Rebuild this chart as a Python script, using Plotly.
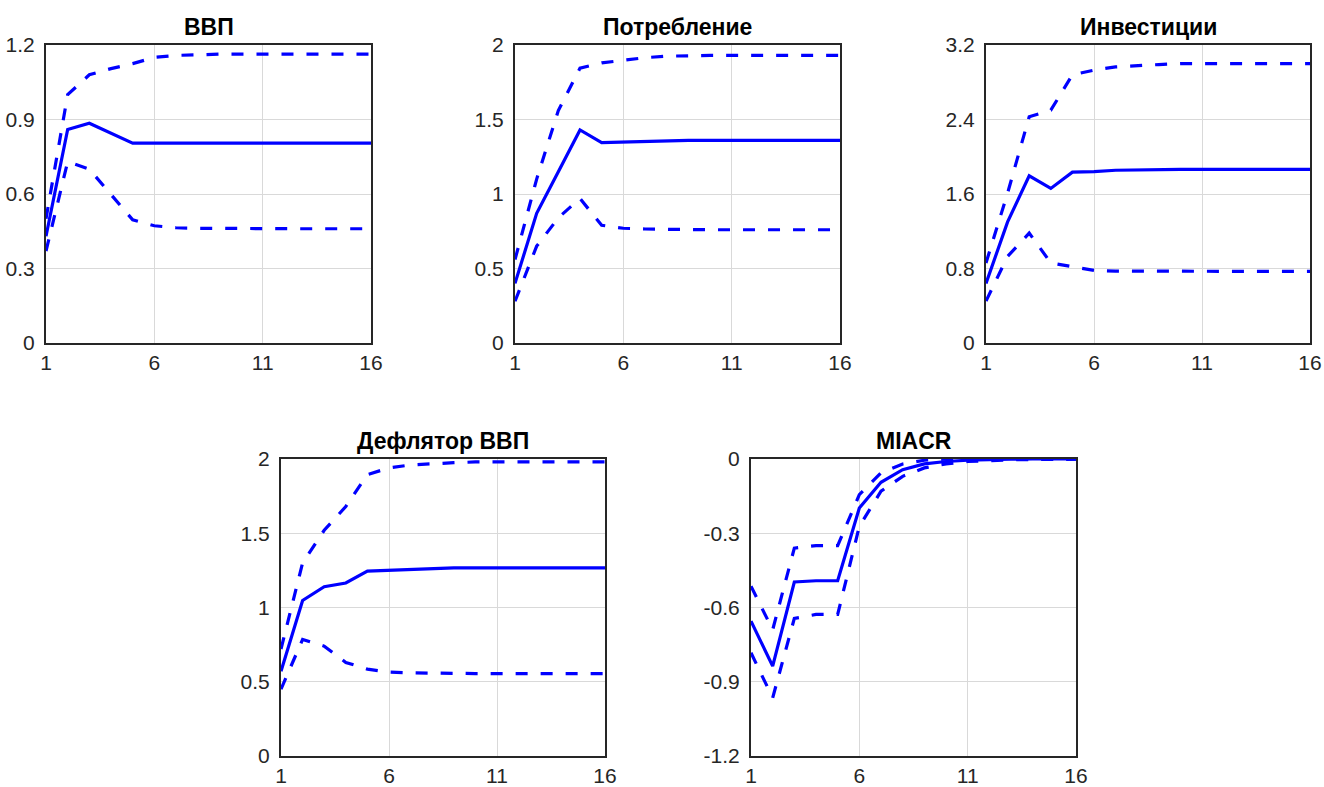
import plotly.graph_objects as go

periods = list(range(1, 17))

titles = ["ВВП", "Потребление", "Инвестиции", "Дефлятор ВВП", "MIACR"]

gdp_mid = [0.43, 0.86, 0.885, 0.845, 0.805, 0.805, 0.805, 0.805, 0.805, 0.805, 0.805, 0.805, 0.805, 0.805, 0.805, 0.805]
gdp_up = [0.50, 1.00, 1.08, 1.105, 1.125, 1.15, 1.158, 1.162, 1.163, 1.163, 1.163, 1.163, 1.163, 1.163, 1.163, 1.163]
gdp_lo = [0.37, 0.73, 0.70, 0.60, 0.496, 0.472, 0.464, 0.462, 0.461, 0.46, 0.46, 0.46, 0.46, 0.46, 0.46, 0.46]

cons_mid = [0.40, 0.87, 1.15, 1.43, 1.345, 1.35, 1.355, 1.358, 1.36, 1.36, 1.36, 1.36, 1.36, 1.36, 1.36, 1.36]
cons_up = [0.56, 1.10, 1.56, 1.845, 1.88, 1.90, 1.915, 1.925, 1.93, 1.93, 1.93, 1.93, 1.93, 1.93, 1.93, 1.93]
cons_lo = [0.28, 0.65, 0.84, 0.97, 0.79, 0.77, 0.765, 0.762, 0.76, 0.76, 0.76, 0.76, 0.76, 0.76, 0.76, 0.76]

inv_mid = [0.64, 1.30, 1.795, 1.66, 1.835, 1.84, 1.855, 1.86, 1.865, 1.865, 1.865, 1.865, 1.865, 1.865, 1.865, 1.865]
inv_up = [0.86, 1.61, 2.43, 2.50, 2.88, 2.93, 2.965, 2.98, 2.99, 3.0, 3.0, 3.0, 3.0, 3.0, 3.0, 3.0]
inv_lo = [0.45, 0.93, 1.18, 0.86, 0.82, 0.78, 0.772, 0.77, 0.77, 0.77, 0.77, 0.77, 0.77, 0.77, 0.77, 0.77]

defl_mid = [0.57, 1.047, 1.14, 1.165, 1.245, 1.25, 1.26, 1.265, 1.267, 1.267, 1.267, 1.267, 1.267, 1.267, 1.267, 1.267]
defl_up = [0.72, 1.30, 1.52, 1.68, 1.895, 1.94, 1.96, 1.97, 1.975, 1.98, 1.98, 1.98, 1.98, 1.98, 1.98, 1.98]
defl_lo = [0.45, 0.785, 0.74, 0.63, 0.585, 0.565, 0.56, 0.557, 0.555, 0.555, 0.555, 0.555, 0.555, 0.555, 0.555, 0.555]

miacr_mid = [-0.655, -0.837, -0.497, -0.492, -0.492, -0.198, -0.094, -0.043, -0.02, -0.01, -0.005, -0.002, -0.001, 0.0, 0.0, 0.0]
miacr_up = [-0.514, -0.69, -0.36, -0.35, -0.35, -0.144, -0.056, -0.02, -0.005, 0.0, 0.0, 0.0, 0.0, 0.0, 0.0, 0.0]
miacr_lo = [-0.783, -0.965, -0.644, -0.628, -0.628, -0.272, -0.13, -0.07, -0.036, -0.02, -0.01, -0.005, -0.003, -0.002, -0.001, -0.001]

series = [
    (gdp_mid, gdp_up, gdp_lo),
    (cons_mid, cons_up, cons_lo),
    (inv_mid, inv_up, inv_lo),
    (defl_mid, defl_up, defl_lo),
    (miacr_mid, miacr_up, miacr_lo),
]

x_ticks = [1, 6, 11, 16]
y_ticks = [
    [0, 0.3, 0.6, 0.9, 1.2],
    [0, 0.5, 1, 1.5, 2],
    [0, 0.8, 1.6, 2.4, 3.2],
    [0, 0.5, 1, 1.5, 2],
    [-1.2, -0.9, -0.6, -0.3, 0],
]
y_ticktext = [
    ["0", "0.3", "0.6", "0.9", "1.2"],
    ["0", "0.5", "1", "1.5", "2"],
    ["0", "0.8", "1.6", "2.4", "3.2"],
    ["0", "0.5", "1", "1.5", "2"],
    ["-1.2", "-0.9", "-0.6", "-0.3", "0"],
]

W, H = 1324, 787
# plot areas in pixels: (left, right, top, bottom)
boxes = [
    (46, 371, 45, 343),
    (515, 840, 45, 343),
    (986, 1310, 45, 343),
    (281, 605, 459, 756),
    (751, 1076, 459, 756),
]

BLUE = "#0000FF"
AX = "#262626"
FONT = "Liberation Sans, Arial"
fig = go.Figure()
layout = {}
annotations = []
for i, ((mid, up, lo), box) in enumerate(zip(series, boxes)):
    n = "" if i == 0 else str(i + 1)
    xa, ya = "x" + n, "y" + n
    for vals, dash in ((up, "12px,13px"), (lo, "12px,13px"), (mid, "solid")):
        fig.add_trace(go.Scatter(
            x=periods, y=vals, xaxis=xa, yaxis=ya, mode="lines",
            line=dict(color=BLUE, width=3.2, dash=dash),
            showlegend=False, hoverinfo="skip",
        ))
    l, r, t, b = box
    layout["xaxis" + n] = dict(
        domain=[l / W, r / W], anchor=ya, range=[1, 16],
        tickvals=x_ticks, ticktext=[str(v) for v in x_ticks],
        showgrid=True, gridcolor="#d9d9d9", gridwidth=1,
        showline=True, linecolor=AX, linewidth=2, mirror=True,
        ticks="", zeroline=False, layer="below traces", automargin=False,
        tickfont=dict(family=FONT, size=21, color=AX),
        ticklabelstandoff=0,
    )
    layout["yaxis" + n] = dict(
        domain=[1 - b / H, 1 - t / H], anchor=xa,
        range=[y_ticks[i][0], y_ticks[i][-1]],
        tickvals=y_ticks[i], ticktext=y_ticktext[i],
        showgrid=True, gridcolor="#d9d9d9", gridwidth=1,
        showline=True, linecolor=AX, linewidth=2, mirror=True,
        ticks="", zeroline=False, layer="below traces", automargin=False,
        tickfont=dict(family=FONT, size=21, color=AX),
        ticklabelstandoff=5,
    )
    annotations.append(dict(
        text="<b>" + titles[i] + "</b>", xref="paper", yref="paper",
        x=(l + r) / 2 / W, y=1 - t / H, xanchor="center", yanchor="bottom",
        yshift=3, showarrow=False,
        font=dict(family=FONT, size=23, color="#000000"),
    ))

fig.update_layout(
    width=W, height=H, margin=dict(l=0, r=0, t=0, b=0, pad=0, autoexpand=False),
    paper_bgcolor="white", plot_bgcolor="white",
    annotations=annotations, **layout,
)
fig.write_html("out.html")
